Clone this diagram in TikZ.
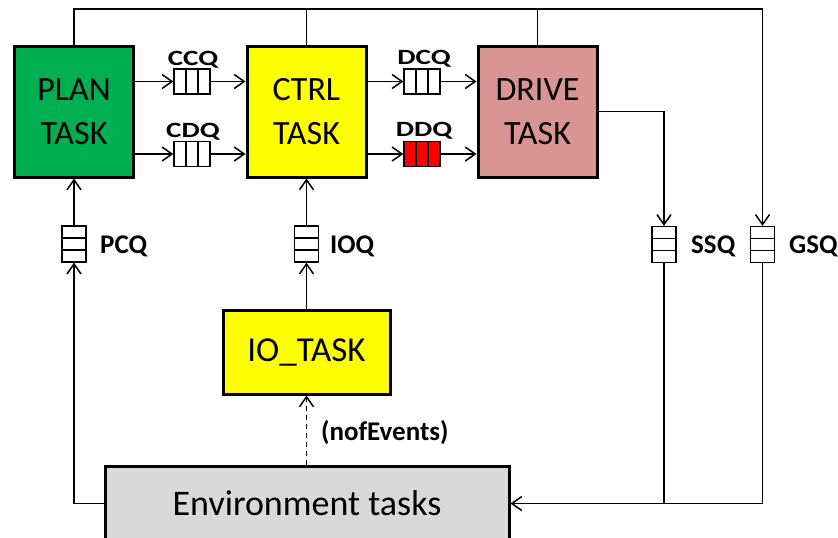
\documentclass[tikz,border=0pt]{standalone}
\usepackage{fontspec}
\setmainfont{Carlito}
\usetikzlibrary{arrows.meta,calc}
\definecolor{plangreen}{HTML}{00B050}
\definecolor{ctrlyellow}{HTML}{FFFF00}
\definecolor{drivepink}{HTML}{D99594}
\definecolor{envgray}{HTML}{D9D9D9}
\definecolor{qred}{HTML}{FF0000}
\tikzset{
  >={Straight Barb[length=10pt,width=14pt]},
  conn/.style={line width=1.5pt},
  taskbox/.style={draw, line width=3pt, align=center, inner sep=0pt,
    font=\fontsize{34}{44}\selectfont},
  bigbox/.style={taskbox, minimum width=119pt, minimum height=131pt},
  hq/.style={draw, line width=1.3pt, minimum width=36pt, minimum height=25pt, inner sep=0pt, fill=white,
    path picture={
      \draw[line width=1.3pt] ($(path picture bounding box.north west)!1/3!(path picture bounding box.north east)$) -- ($(path picture bounding box.south west)!1/3!(path picture bounding box.south east)$);
      \draw[line width=1.3pt] ($(path picture bounding box.north west)!2/3!(path picture bounding box.north east)$) -- ($(path picture bounding box.south west)!2/3!(path picture bounding box.south east)$);
    }},
  vq/.style={draw, line width=1.3pt, minimum width=24pt, minimum height=36pt, inner sep=0pt, fill=white,
    path picture={
      \draw[line width=1.3pt] ($(path picture bounding box.north west)!1/3!(path picture bounding box.south west)$) -- ($(path picture bounding box.north east)!1/3!(path picture bounding box.south east)$);
      \draw[line width=1.3pt] ($(path picture bounding box.north west)!2/3!(path picture bounding box.south west)$) -- ($(path picture bounding box.north east)!2/3!(path picture bounding box.south east)$);
    }},
  qlabel/.style={inner sep=0pt, font=\bfseries\fontsize{27}{30}\selectfont},
  tlabel/.style={inner sep=0pt, font=\bfseries\fontsize{29}{30}\selectfont},
}
\newcommand{\sqz}[1]{\scalebox{1}[0.75]{#1}}
\begin{document}
\begin{tikzpicture}[x=1pt,y=-1pt]
\useasboundingbox (0,0) rectangle (838,538);

% task boxes
\node[bigbox, fill=plangreen] (plan) at (74,111.5) {PLAN\\TASK};
\node[bigbox, fill=ctrlyellow] (ctrl) at (306.5,111.5) {CTRL\\TASK};
\node[bigbox, fill=drivepink] (drive) at (537.5,111.5) {DRIVE\\TASK};
\node[taskbox, fill=ctrlyellow, minimum width=167pt, minimum height=84pt,
  font=\fontsize{35}{40}\selectfont] (io) at (306.5,352) {IO\_TASK};
\node[taskbox, fill=envgray, minimum width=404pt, minimum height=75pt,
  font=\fontsize{36}{40}\selectfont] (env) at (307,503.5) {Environment tasks};

% queues
\node[hq] (ccq) at (192,81.5) {};
\node[hq] (cdq) at (192,154) {};
\node[hq] (dcq) at (422,81.5) {};
\node[hq, fill=qred] (ddq) at (422,154) {};
\node[vq] (pcq) at (74,244) {};
\node[vq] (ioq) at (306.5,244) {};
\node[vq] (ssq) at (664,244.5) {};
\node[vq] (gsq) at (762.5,244.5) {};

% queue labels
\node[tlabel] (lccq) at (193,60) {\sqz{CCQ}};
\node[tlabel] (lcdq) at (193,132) {\sqz{CDQ}};
\node[tlabel] (ldcq) at (424,59) {\sqz{DCQ}};
\node[tlabel] (lddq) at (424,131) {\sqz{DDQ}};
\node[qlabel, anchor=west] (lpcq) at (100,246) {PCQ};
\node[qlabel, anchor=west] (lioq) at (330,246) {IOQ};
\node[qlabel, anchor=west] (lssq) at (691,246) {SSQ};
\node[qlabel, anchor=west] (lgsq) at (789,246) {GSQ};
\node[qlabel, anchor=west] (lnof) at (321,433) {(nofEvents)};

% top bus
\coordinate (top) at (74,9);
\draw[conn,->] (plan.north) |- (gsq.north |- top) -- (gsq.north);
\draw[conn] (ctrl.north) -- (ctrl.north |- top);
\draw[conn] (drive.north) -- (drive.north |- top);

% horizontal queues
\draw[conn,->] (plan.east |- ccq.west) -- (ccq.west);
\draw[conn,->] (ccq.east) -- (ctrl.west |- ccq.east);
\draw[conn,->] (plan.east |- cdq.west) -- (cdq.west);
\draw[conn,->] (cdq.east) -- (ctrl.west |- cdq.east);
\draw[conn,->] (ctrl.east |- dcq.west) -- (dcq.west);
\draw[conn,->] (dcq.east) -- (drive.west |- dcq.east);
\draw[conn,->] (ctrl.east |- ddq.west) -- (ddq.west);
\draw[conn,->] (ddq.east) -- (drive.west |- ddq.east);

% drive to SSQ
\draw[conn,->] (drive.east) -| (ssq.north);

% status queues to environment
\draw[conn,->] (gsq.south) |- (env.east);
\draw[conn] (ssq.south) -- (ssq.south |- env.east);

% environment to plan
\draw[conn,->] (env.west) -| (pcq.south);
\draw[conn,->] (pcq.north) -- (plan.south);

% io path
\draw[conn,->] (io.north) -- (ioq.south);
\draw[conn,->] (ioq.north) -- (ctrl.south);
\draw[conn,->,dash pattern=on 5pt off 4pt] (env.north -| io.south) -- (io.south);
\end{tikzpicture}
\end{document}
